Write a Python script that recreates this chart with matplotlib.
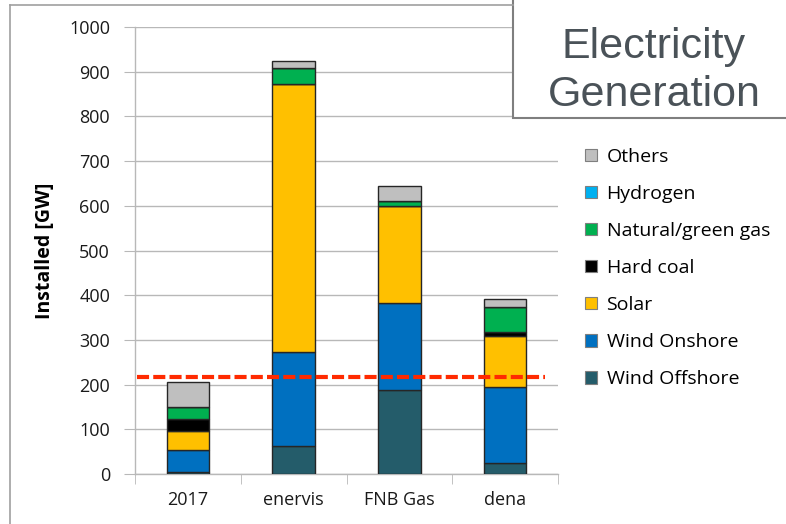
import numpy as np
import matplotlib
matplotlib.use('Agg')
import matplotlib.pyplot as plt
from matplotlib.patches import Rectangle, Patch
from matplotlib.lines import Line2D

plt.rcParams['font.family'] = ['Open Sans', 'DejaVu Sans']

scenarios = ['2017', 'enervis', 'FNB Gas', 'dena']
wind_offshore = [4, 63, 189, 25]
wind_onshore = [50, 210, 194, 170]
solar = [43, 599, 217, 114]
hard_coal = [25, 0, 0, 8]
gas = [28, 37, 11, 56]
hydrogen = [0, 0, 0, 0]
others = [55, 16, 33, 18]
reference_level = 217

series = [
    ('Wind Offshore', wind_offshore, '#245c6a'),
    ('Wind Onshore', wind_onshore, '#0070c0'),
    ('Solar', solar, '#ffc000'),
    ('Hard coal', hard_coal, '#000000'),
    ('Natural/green gas', gas, '#00b050'),
    ('Hydrogen', hydrogen, '#00b0f0'),
    ('Others', others, '#bfbfbf'),
]

W, H = 786, 524
fig = plt.figure(figsize=(W / 100, H / 100), dpi=100)

# outer frame lines (slide border)
fig.add_artist(Line2D([10 / W, 10 / W], [0, 1 - 5 / H], color='#a0a0a0', lw=1.2))
fig.add_artist(Line2D([10 / W, 513 / W], [1 - 5 / H, 1 - 5 / H], color='#a0a0a0', lw=1.2))

ax = fig.add_axes([135 / W, 1 - 474 / H, 423 / W, 447 / H])
x = np.arange(len(scenarios))
bottom = np.zeros(len(scenarios))
for name, vals, col in series:
    vals = np.array(vals, dtype=float)
    ax.bar(x, vals, 0.4, bottom=bottom, color=col, edgecolor='#262626', linewidth=1.0,
           label=name, zorder=3)
    bottom += vals

ax.plot([-0.48, 3.38], [reference_level, reference_level], color='#ff2a00', lw=3.0,
        dashes=(2.9, 1.0), zorder=4, clip_on=False)

ax.set_xlim(-0.5, 3.5)
ax.set_ylim(0, 1000)
ax.set_yticks(np.arange(0, 1001, 100))
ax.yaxis.grid(True, color='#b8b8b8', lw=1.0, zorder=0)
ax.set_xticks(x)
ax.set_xticklabels(scenarios)
ax.set_xticks(np.arange(-0.5, 4, 1), minor=True)
ax.tick_params(axis='x', which='major', length=0, labelsize=13, pad=12, labelcolor='#1a1a1a')
ax.tick_params(axis='x', which='minor', length=7, color='#b8b8b8', direction='out')
ax.tick_params(axis='y', length=8, color='#b8b8b8', labelsize=13, pad=10, labelcolor='#1a1a1a')
for s in ['top', 'right']:
    ax.spines[s].set_visible(False)
for s in ['left', 'bottom']:
    ax.spines[s].set_color('#b8b8b8')
    ax.spines[s].set_linewidth(1.0)
ax.set_ylabel('Installed [GW]', fontsize=14, fontweight='bold', labelpad=10)

# legend
handles = [Patch(facecolor=c, edgecolor='#7f7f7f', lw=0.8) for _, _, c in series[::-1]]
labels = [n for n, _, _ in series[::-1]]
fig.legend(handles, labels, loc='upper left', bbox_to_anchor=(577 / W, 1 - 140 / H),
           frameon=False, fontsize=14, handlelength=0.62, handleheight=0.62,
           handletextpad=0.5, labelspacing=0.98, borderaxespad=0)

# title box
fig.add_artist(Rectangle((513 / W, 1 - 118 / H), 300 / W, 130 / H, transform=fig.transFigure,
                         facecolor='white', edgecolor='#7f7f7f', lw=1.5, clip_on=False))
fig.text(654 / W, 1 - 71 / H, 'Electricity\nGeneration', ha='center', va='center',
         fontsize=31, color='#4a5258', family=['Liberation Sans', 'DejaVu Sans'],
         linespacing=1.28)

fig.savefig('out.png', dpi=100)
